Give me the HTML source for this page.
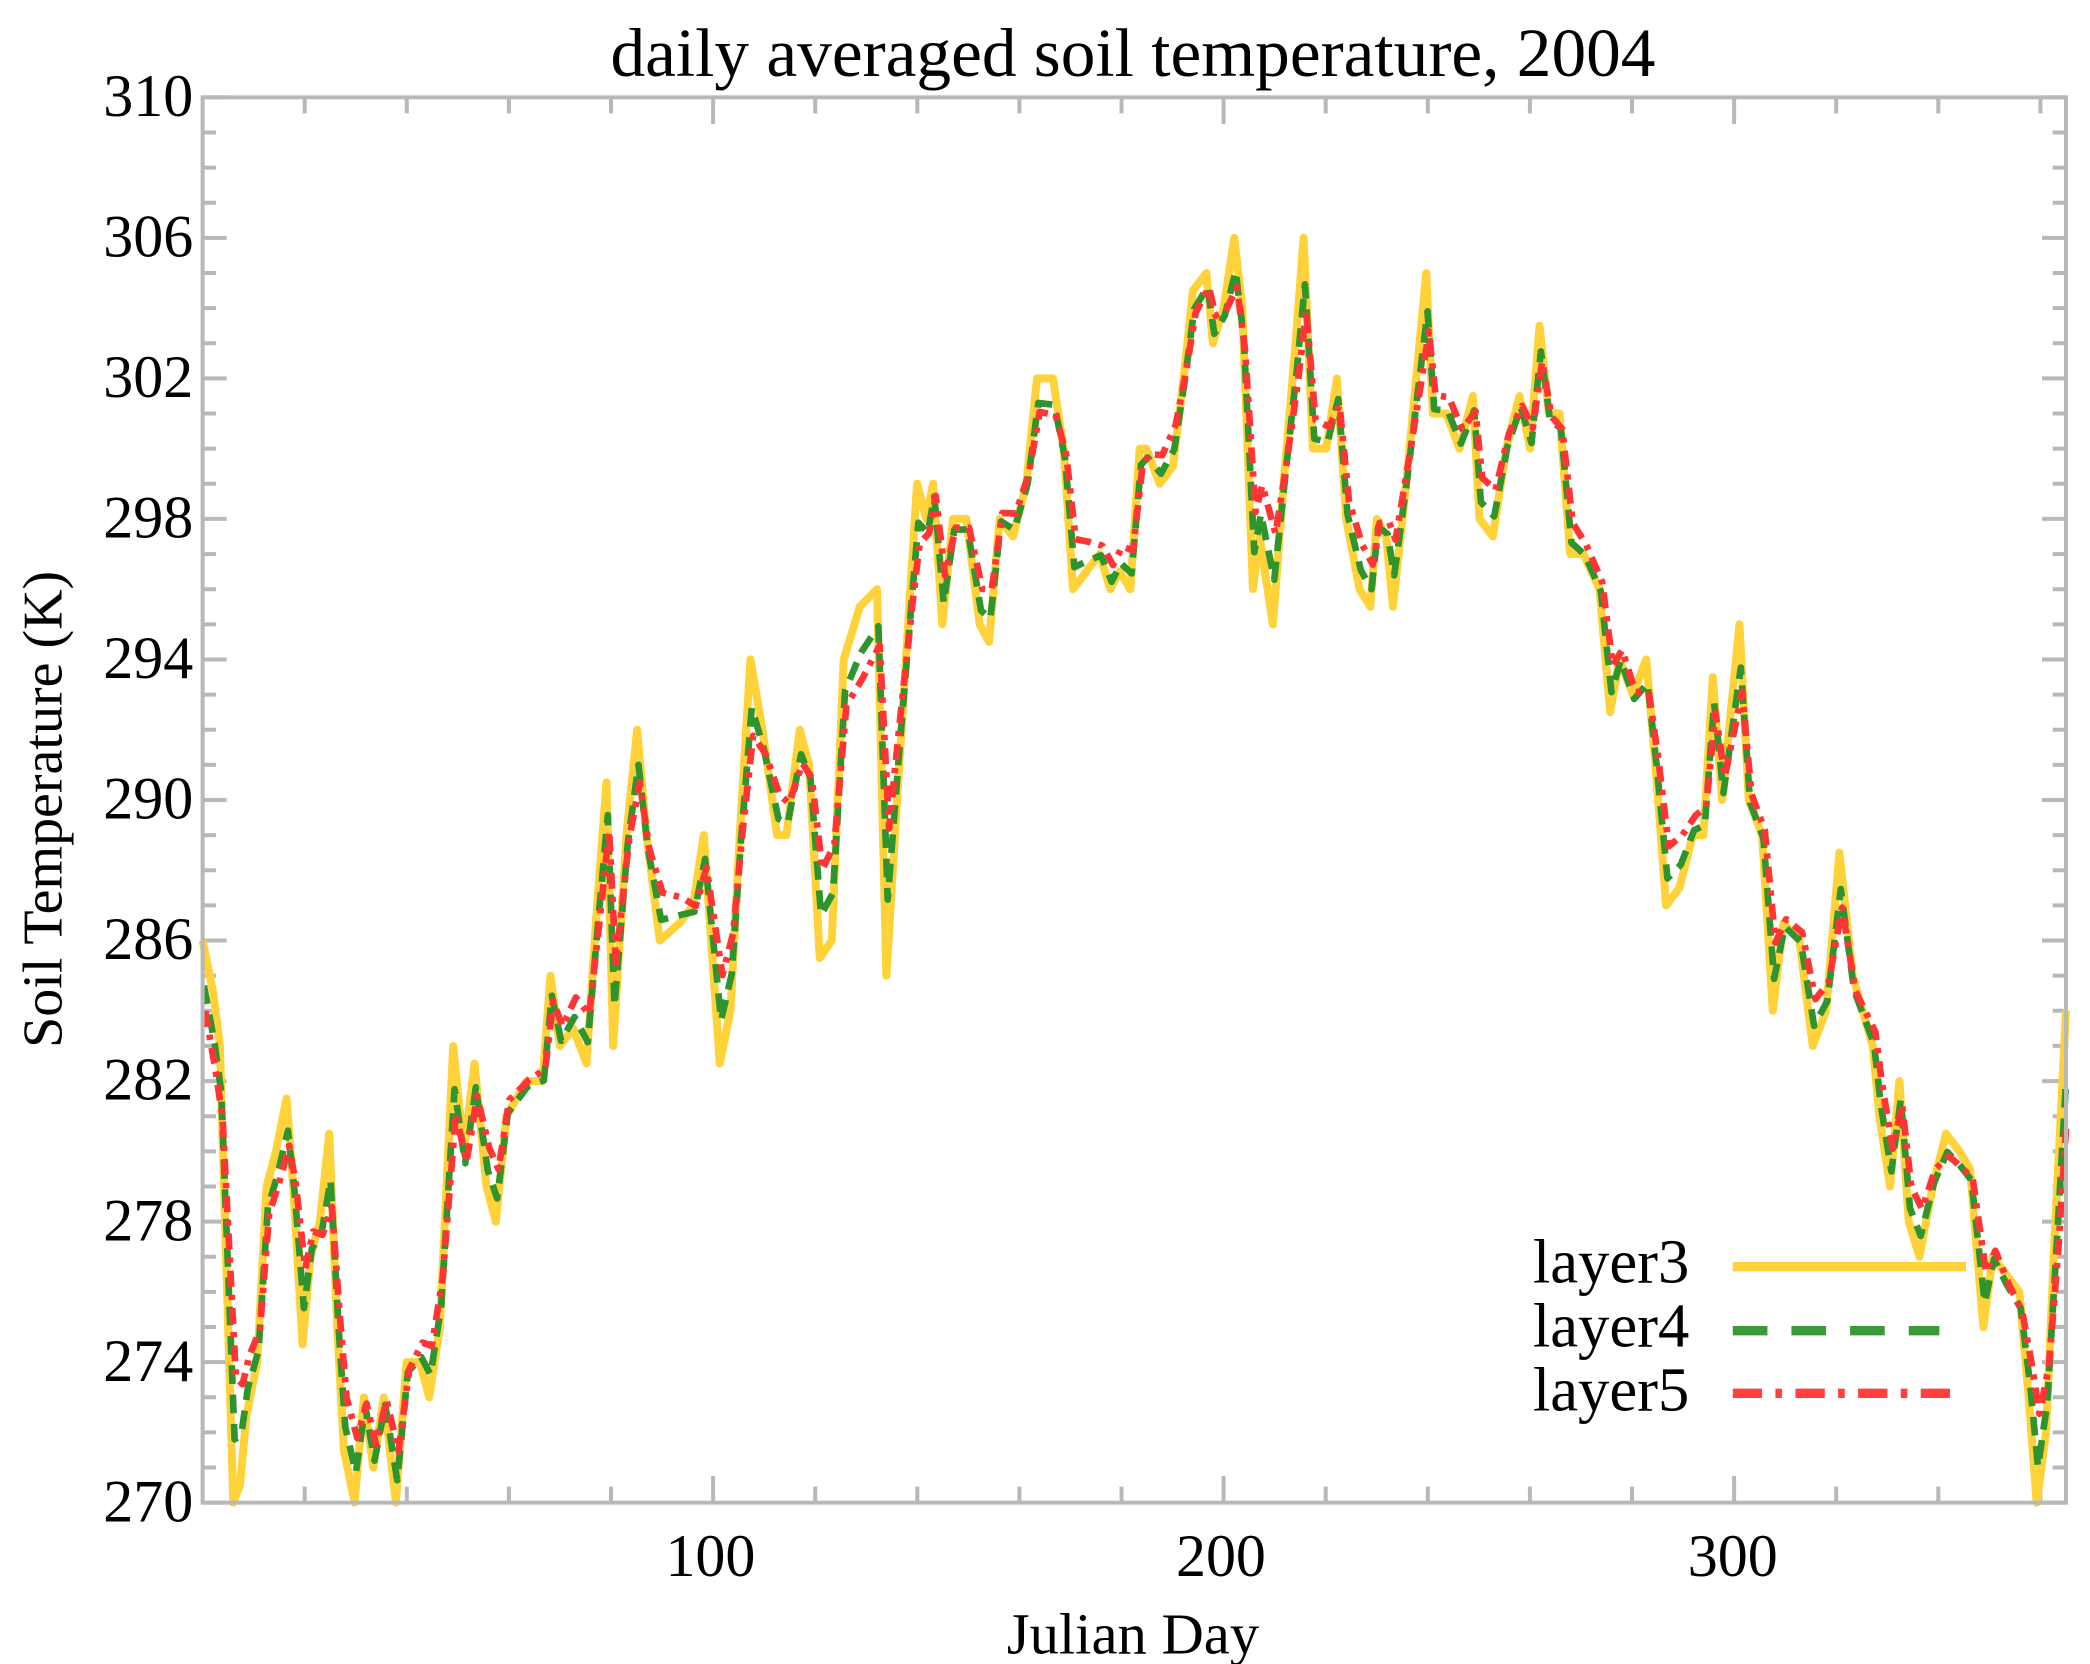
<!DOCTYPE html>
<html><head><meta charset="utf-8"><style>
html,body{margin:0;padding:0;background:#fff;overflow:hidden}
svg{display:block}
text{font-family:"Liberation Serif",serif;fill:#000}
</style></head><body>
<svg id="s" width="2090" height="1664" viewBox="0 0 1568 1248" preserveAspectRatio="none" xmlns="http://www.w3.org/2000/svg">
<rect width="1568" height="1248" fill="#fff"/>
<text x="850" y="57" font-size="52" text-anchor="middle">daily averaged soil temperature, 2004</text>
<g id="ticks" stroke="#b8b8b8" stroke-width="3" fill="none"></g>
<g id="series" fill="none" stroke-linejoin="round"></g>
<rect x="152" y="73" width="1398" height="1054" fill="none" stroke="#b8b8b8" stroke-width="3"/>
<g font-size="45" text-anchor="end" id="ylab"></g>
<g font-size="45" text-anchor="middle">
<text x="533" y="1182">100</text><text x="916" y="1182">200</text><text x="1300" y="1182">300</text>
</g>
<text x="850" y="1240" font-size="44" text-anchor="middle">Julian Day</text>
<text transform="translate(46,607) rotate(-90)" font-size="42" text-anchor="middle">Soil Temperature (K)</text>
<g font-size="47">
<text x="1150" y="962">layer3</text><text x="1150" y="1010">layer4</text><text x="1150" y="1058">layer5</text>
</g>
<line x1="1300" y1="950" x2="1475" y2="950" stroke="#ffd23a" stroke-width="7"/>
<line x1="1300" y1="998" x2="1455" y2="998" stroke="#3a9a3a" stroke-width="7" stroke-dasharray="26,18"/>
<line x1="1300" y1="1045" x2="1470" y2="1045" stroke="#ff4040" stroke-width="7" stroke-dasharray="22,10,5,10"/>
</svg>
<script>
var NS="http://www.w3.org/2000/svg";
function Y(t){return 1127-(t-270)*26.35;}
var tk=document.getElementById('ticks'),d="";
for(var t=270;t<=310;t++){var y=Y(t),L=(t%4==2)?18:10;d+="M152 "+y+"h"+L+"M1550 "+y+"h-"+L;}
for(var day=20;day<=360;day+=20){var x=152+day*3.83,L=(day%100==0)?20:12;d+="M"+x+" 1127v-"+L+"M"+x+" 73v"+L;}
var p=document.createElementNS(NS,'path');p.setAttribute('d',d);tk.appendChild(p);
var yl=document.getElementById('ylab');
for(var t=270;t<=310;t+=4){var e=document.createElementNS(NS,'text');e.setAttribute('x',145);e.setAttribute('y',Y(t)+14);e.textContent=t;yl.appendChild(e);}
var k=[152,286,160,284.5,165,283,175,270,180,270.5,185,272.5,193,274,200,279,207,280,215,281.5,220,279,227,274.5,233,277,240,278,247,280.5,253,275,258,271.5,266,270,273,273,280,271,288,273,297,270,305,274,315,274,322,273,330,275,340,283,348,280,356,282.5,365,279,372,278,380,281,395,282,407,282,413,285,420,283,430,283.5,440,282.5,448,287,455,290.5,460,283,470,289,478,292,485,289,495,286,510,286.5,520,287,528,289,540,282.5,548,284,555,289,563,294,572,292,583,289,590,289,600,292,607,291,615,285.5,624,286,633,294,645,295.5,658,296,665,285,673,290,683,296,688,299,695,298,700,299,707,295,715,298,725,298,735,295,742,294.5,750,298,760,297.5,770,299,778,302,790,302,798,300,805,296,815,296.5,825,297,833,296,840,296.5,848,296,855,300,860,300,870,299,880,299.5,888,302,895,304.5,905,305,910,303,918,304,926,306,932,304,940,296,945,297.5,955,295,963,299,972,303,978,306,985,300,995,300,1003,302,1010,298,1020,296,1028,295.5,1033,298,1040,297.5,1045,295.5,1055,299,1065,303,1070,305,1075,301,1085,301,1095,300,1105,301.5,1110,298,1120,297.5,1130,300,1140,301.5,1148,300,1155,303.5,1162,301,1170,301,1178,297,1188,297,1200,296,1208,292.5,1215,294,1225,293,1235,294,1242,291,1250,287,1260,287.5,1270,289,1278,289,1285,293.5,1292,290,1305,295,1312,290,1322,289,1330,284,1338,286.5,1350,286,1360,283,1370,284,1380,288.5,1390,285,1405,283,1410,281,1418,279,1425,282,1432,278,1440,277,1450,279,1460,280.5,1470,280,1478,279.5,1488,275,1495,277,1505,276.5,1515,276,1522,273,1528,269.5,1535,272,1542,278,1550,284];
var n=k.length/2,X=[],T=[];for(var i=0;i<n;i++){X.push(k[2*i]);T.push(k[2*i+1]);}
var S=[];for(var i=0;i<n;i++){var s=0,c=0;for(var j=-3;j<=3;j++){var q=i+j;if(q>=0&&q<n){s+=T[q];c++;}}S.push(s/c);}
function path(f,dx){var d="";for(var i=0;i<n;i++){var x=Math.min(1550,X[i]+dx);var y=Math.max(73,Math.min(1127,Y(f(i))));d+=(i?"L":"M")+x.toFixed(1)+" "+y.toFixed(1);}return d;}
function add(d,col,w,dash){var p=document.createElementNS(NS,'path');p.setAttribute('d',d);p.setAttribute('stroke',col);p.setAttribute('stroke-width',w);if(dash)p.setAttribute('stroke-dasharray',dash);document.getElementById('series').appendChild(p);}
add(path(function(i){return T[i];},0),"#ffd23a",6);
add(path(function(i){return 0.75*T[i]+0.25*S[i];},1),"#2e942e",5,"14,8");
add(path(function(i){return 0.55*T[i]+0.45*S[i]+0.3;},2),"#ff3535",5,"12,6,4,6");
</script>
</body></html>
